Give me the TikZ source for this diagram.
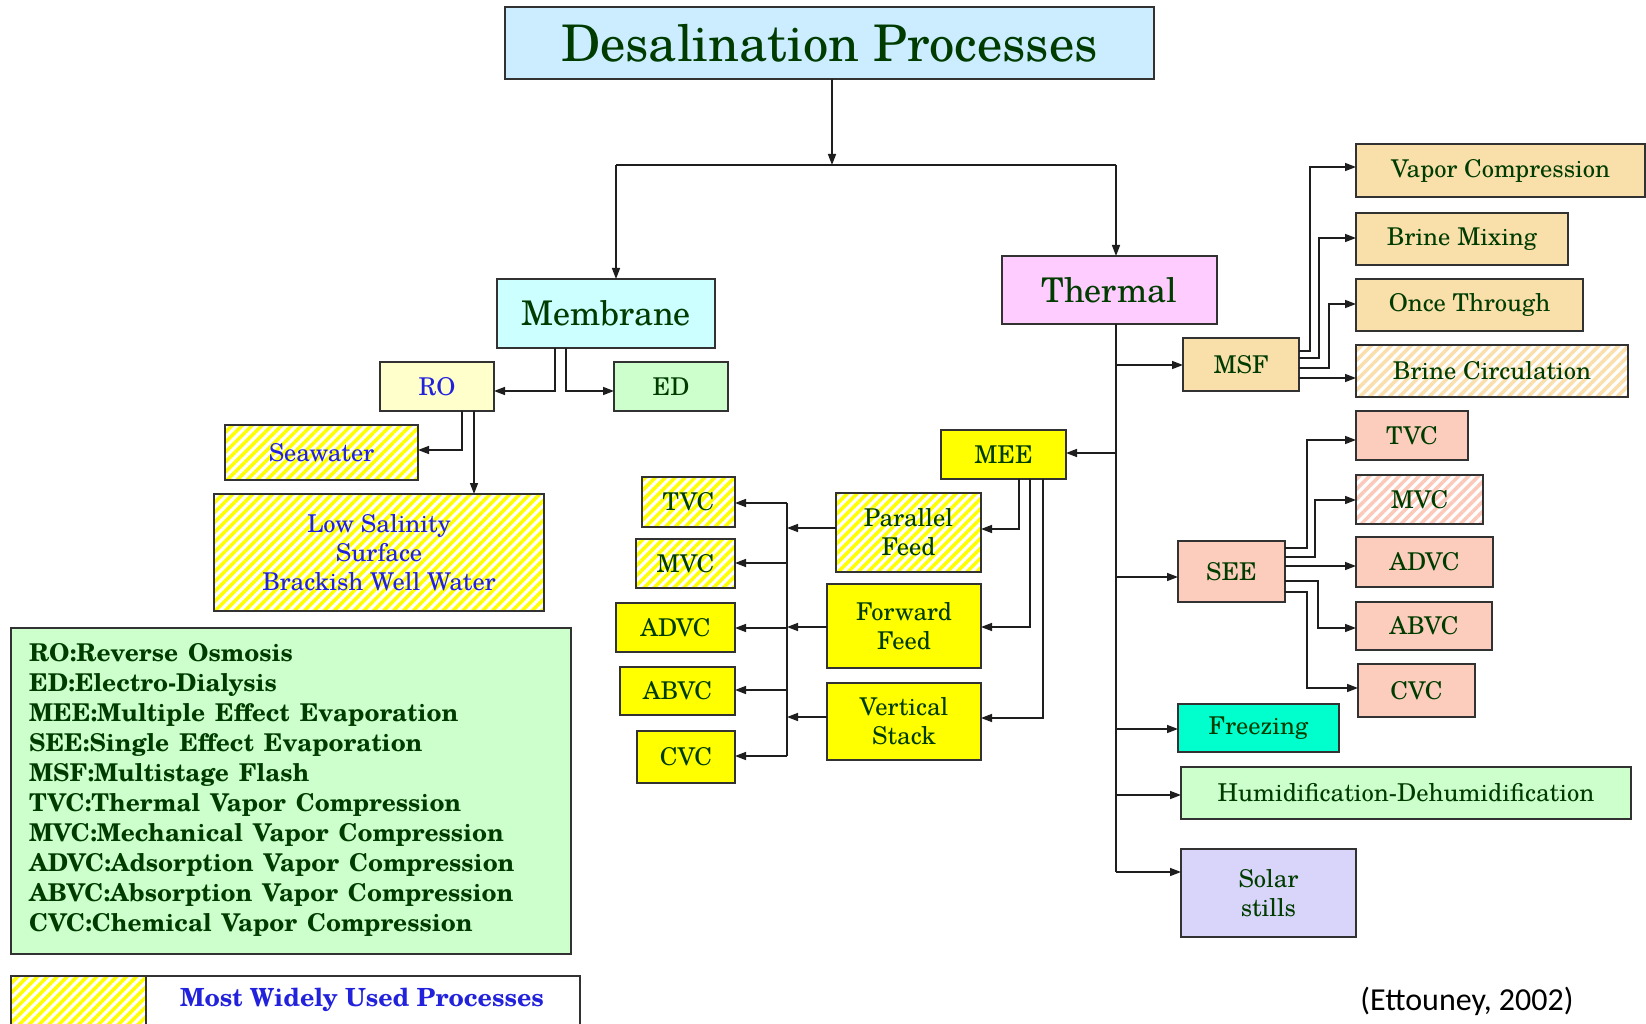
\documentclass[tikz,border=0pt]{standalone}
\usepackage{fontspec}
\setmainfont{TeX Gyre Schola}
\newfontfamily\calfont{Carlito}
\usetikzlibrary{arrows.meta,patterns.meta}
\newcommand\myfs[2]{\fontsize{#1}{#2}\selectfont}
\newcommand\widesp{\spaceskip=10pt\relax}
\definecolor{tgreen}{RGB}{0,60,0}
\definecolor{tblue}{RGB}{34,34,221}
\definecolor{bordc}{RGB}{50,50,50}
\definecolor{lnc}{RGB}{30,30,30}
\definecolor{cTitle}{RGB}{204,236,255}
\definecolor{cMem}{RGB}{204,255,255}
\definecolor{cTher}{RGB}{255,204,255}
\definecolor{cRO}{RGB}{255,255,204}
\definecolor{cED}{RGB}{204,255,204}
\definecolor{cYel}{RGB}{255,255,0}
\definecolor{cTan}{RGB}{249,223,169}
\definecolor{cTanH}{RGB}{250,222,172}
\definecolor{cSal}{RGB}{252,205,188}
\definecolor{cSalH}{RGB}{252,200,185}
\definecolor{cFrz}{RGB}{0,255,204}
\definecolor{cHD}{RGB}{204,255,204}
\definecolor{cSol}{RGB}{217,212,250}
\definecolor{cLeg}{RGB}{204,255,204}
\tikzset{
  bx/.style={draw=bordc, line width=1.5pt, inner sep=0pt, outer sep=0pt,
    text=tgreen, font=\myfs{24.5}{29}, align=center},
  rect/.style args={#1/#2/#3/#4}{minimum width={(#3)-(#1)}, minimum height={(#4)-(#2)},
    at={({(#1+#3)/2},{(#2+#4)/2})}},
  hatch/.style={preaction={fill=white},
    preaction={pattern={Lines[angle=45,distance=7pt,line width=3.5pt]}, pattern color=#1}},
  ln/.style={draw=lnc, line width=1.5pt},
  arr/.style={draw=lnc, line width=1.5pt, -{Triangle[length=11pt,width=8pt]}},
  legtxt/.style={anchor=base west, inner sep=0pt, text=tgreen,
    font=\bfseries\myfs{24.5}{30}}
}
\begin{document}
\begin{tikzpicture}[x=1pt,y=-1pt]
\path[use as bounding box, clip] (0,0) rectangle (1646,1024);
\fill[white] (0,0) rectangle (1646,1024);

% ---- top
\node[bx, fill=cTitle, font=\myfs{50.5}{56}, rect=505/7/1154/79] (title) {Desalination Processes};
\node[bx, fill=cMem, font=\myfs{34}{40}, rect=497/279/715/348] (mem) {Membrane};
\node[bx, fill=cTher, font=\myfs{34}{40}, rect=1002/256/1217/324] (therm) {Thermal};

% ---- membrane side
\node[bx, fill=cRO, text=tblue, rect=380/362/494/411] (ro) {RO};
\node[bx, fill=cED, rect=614/362/728/411] (ed) {ED};
\node[bx, hatch=cYel, text=tblue, rect=225/425/418/480] (sea) {Seawater};
\node[bx, hatch=cYel, text=tblue, rect=214/494/544/611] (low) {Low Salinity\\Surface\\Brackish Well Water};

% ---- legend
\node[bx, fill=cLeg, rect=11/628/571/954] (legend) {};
\foreach \t [count=\i] in {RO:Reverse Osmosis, ED:Electro-Dialysis, MEE:Multiple Effect Evaporation, SEE:Single Effect Evaporation, MSF:Multistage Flash, TVC:Thermal Vapor Compression, MVC:Mechanical Vapor Compression, ADVC:Adsorption Vapor Compression, ABVC:Absorption Vapor Compression, CVC:Chemical Vapor Compression}
  \node[legtxt] (leg\i) at (29, 631+30*\i) {\widesp\t};

\node[bx, fill=white, rect=11/976/580/1034] (mwu) {};
\node[bx, hatch=cYel, rect=11/976/146/1034] (mwuh) {};
\node[inner sep=0pt, text=tblue, font=\bfseries\myfs{25}{29}] (mwut) at (362,1000) {Most Widely Used Processes};

% ---- MEE group
\node[bx, fill=cYel, rect=941/430/1066/479] (mee) {MEE};
\node[bx, hatch=cYel, rect=836/493/981/572] (pf) {Parallel\\Feed};
\node[bx, fill=cYel, rect=827/584/981/668] (ff) {Forward\\Feed};
\node[bx, fill=cYel, rect=827/683/981/760] (vs) {Vertical\\Stack};
\node[bx, hatch=cYel, rect=642/477/735/527] (mtvc) {TVC};
\node[bx, hatch=cYel, rect=636/539/735/588] (mmvc) {MVC};
\node[bx, fill=cYel, rect=616/603/735/652] (madvc) {ADVC};
\node[bx, fill=cYel, rect=620/667/735/715] (mabvc) {ABVC};
\node[bx, fill=cYel, rect=637/731/735/783] (mcvc) {CVC};

% ---- MSF group
\node[bx, fill=cTan, rect=1183/338/1299/391] (msf) {MSF};
\node[bx, fill=cTan, rect=1356/144/1645/197] (vc) {Vapor Compression};
\node[bx, fill=cTan, rect=1356/213/1568/265] (bm) {Brine Mixing};
\node[bx, fill=cTan, rect=1356/279/1583/331] (ot) {Once Through};
\node[bx, hatch=cTanH, rect=1356/345/1628/397] (bc) {Brine Circulation};

% ---- SEE group
\node[bx, fill=cSal, rect=1178/541/1285/602] (see) {SEE};
\node[bx, fill=cSal, rect=1356/411/1468/460] (stvc) {TVC};
\node[bx, hatch=cSalH, rect=1356/475/1483/524] (smvc) {MVC};
\node[bx, fill=cSal, rect=1356/537/1493/587] (sadvc) {ADVC};
\node[bx, fill=cSal, rect=1356/602/1492/650] (sabvc) {ABVC};
\node[bx, fill=cSal, rect=1358/664/1475/717] (scvc) {CVC};

% ---- other thermal
\node[bx, fill=cFrz, rect=1178/704/1339/752] (frz) {Freezing};
\node[bx, fill=cHD, font=\myfs{24.6}{29}, rect=1181/767/1631/819] (hd) {Humidification-Dehumidification};
\node[bx, fill=cSol, rect=1181/849/1356/937] (sol) {Solar\\stills};

\node[inner sep=0pt, font=\calfont\myfs{32}{36}] (cite) at (1467,1001) {(Ettouney, 2002)};

% ---- connectors: top
\coordinate (jT) at (832,165);
\coordinate (jL) at (616,165);
\coordinate (jR) at (1116,165);
\draw[arr] (title.south -| jT) -- (jT);
\draw[ln] (jL) -- (jR);
\draw[arr] (jL) -- (jL |- mem.north);
\draw[arr] (jR) -- (jR |- therm.north);

% membrane
\draw[arr] (mem.south -| 555,0) |- (ro.east |- 0,391);
\draw[arr] (mem.south -| 566,0) |- (ed.west |- 0,391);
\draw[arr] (ro.south -| 462,0) |- (sea.east |- 0,450);
\draw[arr] (ro.south -| 474,0) -- (low.north -| 474,0);

% thermal trunk
\coordinate (tB) at (1116,872);
\draw[ln] (therm.south -| tB) -- (tB);
\draw[arr] (tB |- 0,365) -- (msf.west |- 0,365);
\draw[arr] (tB |- 0,453) -- (mee.east |- 0,453);
\draw[arr] (tB |- 0,577) -- (see.west |- 0,577);
\draw[arr] (tB |- 0,729) -- (frz.west |- 0,729);
\draw[arr] (tB |- 0,795) -- (hd.west |- 0,795);
\draw[arr] (tB) -- (sol.west |- tB);

% MSF branches
\draw[arr] (msf.east |- 0,351) -- ++(11,0) |- (vc.west |- 0,167);
\draw[arr] (msf.east |- 0,358) -- ++(20,0) |- (bm.west |- 0,238);
\draw[arr] (msf.east |- 0,368) -- ++(30,0) |- (ot.west |- 0,304);
\draw[arr] (msf.east |- 0,378) -- (bc.west |- 0,378);

% SEE branches
\draw[arr] (see.east |- 0,548) -- ++(22,0) |- (stvc.west |- 0,440);
\draw[arr] (see.east |- 0,557) -- ++(30,0) |- (smvc.west |- 0,500);
\draw[arr] (see.east |- 0,566) -- (sadvc.west |- 0,566);
\draw[arr] (see.east |- 0,581) -- ++(33,0) |- (sabvc.west |- 0,628);
\draw[arr] (see.east |- 0,592) -- ++(22,0) |- (scvc.west |- 0,688);

% MEE branches
\draw[arr] (mee.south -| 1019,0) |- (pf.east |- 0,529);
\draw[arr] (mee.south -| 1030,0) |- (ff.east |- 0,627);
\draw[arr] (mee.south -| 1043,0) |- (vs.east |- 0,718);
\coordinate (bT) at (787,503);
\coordinate (bB) at (787,756);
\draw[ln] (bT) -- (bB);
\draw[arr] (pf.west |- 0,528) -- (bT |- 0,528);
\draw[arr] (ff.west |- 0,627) -- (bT |- 0,627);
\draw[arr] (vs.west |- 0,717) -- (bT |- 0,717);
\draw[arr] (bT) -- (mtvc.east |- bT);
\draw[arr] (bT |- 0,563) -- (mmvc.east |- 0,563);
\draw[arr] (bT |- 0,628) -- (madvc.east |- 0,628);
\draw[arr] (bT |- 0,690) -- (mabvc.east |- 0,690);
\draw[arr] (bB) -- (mcvc.east |- bB);
\end{tikzpicture}
\end{document}
